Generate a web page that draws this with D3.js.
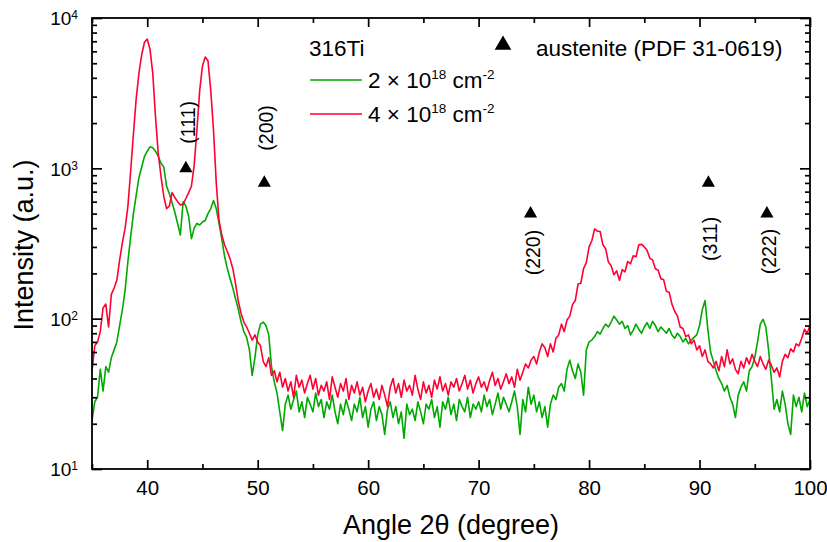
<!DOCTYPE html>
<html>
<head>
<meta charset="utf-8">
<script src="https://cdn.jsdelivr.net/npm/d3@7"></script>
<style>
body { margin: 0; background: #fff; }
text { font-family: "Liberation Sans", Arial, Helvetica, sans-serif; fill: #000; }
</style>
</head>
<body>
<div id="canvas"></div>
<script>
"use strict"

/* Data: intensities, one value every 0.25 degree from 35 to 100 */
let angleStart = 35;
let angleStep = 0.25;

let intensity2e18 = [
    21, 28, 30, 46, 33, 48, 44, 55, 62, 70, 90, 115, 155, 240, 350, 500,
    660, 870, 1020, 1200, 1300, 1390, 1370, 1300, 1200, 1080, 1020, 760, 680, 590, 510, 430,
    360, 600, 560, 480, 340, 400, 430, 420, 440, 450, 500, 540, 610, 540, 430, 340,
    260, 215, 185, 160, 135, 115, 95, 82, 75, 62, 42, 55, 78, 92, 95, 90,
    78, 48, 38, 32, 24, 18, 27, 31, 25, 29, 33, 24, 28, 22, 30, 27,
    24, 32, 26, 29, 22, 28, 25, 31, 24, 20, 27, 23, 29, 25, 21, 27,
    24, 30, 22, 26, 19, 25, 28, 21, 26, 23, 17, 25, 28, 22, 26, 20,
    24, 16, 27, 23, 25, 21, 28, 24, 20, 27, 25, 29, 22, 26, 19, 28,
    25, 30, 23, 27, 21, 29, 26, 24, 30, 22, 27, 25, 28, 24, 31, 26,
    29, 23, 27, 32, 25, 30, 27, 24, 28, 33, 26, 17, 29, 24, 35, 27,
    31, 24, 28, 22, 26, 19, 27, 31, 29, 35, 37, 33, 46, 53, 45, 40,
    50, 44, 31, 62, 70, 72, 76, 82, 79, 86, 92, 88, 95, 104, 98, 92,
    96, 86, 90, 78, 84, 92, 85, 80, 88, 94, 86, 96, 90, 82, 88, 84,
    80, 86, 78, 74, 80, 76, 70, 74, 68, 72, 75, 78, 90, 115, 132, 85,
    60, 52, 45, 40, 37, 33, 36, 30, 27, 22, 31, 35, 38, 33, 45, 48,
    55, 70, 92, 99, 88, 62, 40, 25, 29, 24, 33, 27, 20, 17, 31, 26,
    30, 24, 32, 26, 29
];

let intensity4e18 = [
    45, 66, 70, 82, 118, 125, 88, 145, 160, 180, 245, 320, 400, 560, 960, 1700,
    2900, 4300, 5700, 6900, 7250, 6200, 4300, 2200, 1250, 880, 650, 540, 560, 690, 640, 600,
    570, 580, 630, 690, 760, 1050, 1800, 3300, 4800, 5500, 5200, 3300, 1800, 800, 450, 360,
    310, 280, 250, 215, 170, 130, 108, 95, 88, 80, 72, 78, 70, 66, 52, 48,
    55, 42, 45, 38, 44, 35, 40, 33, 38, 30, 42, 35, 39, 32, 37, 42,
    34, 40, 31, 36, 33, 38, 29, 41, 35, 30, 37, 33, 40, 29, 36, 32,
    38, 31, 35, 28, 33, 37, 30, 34, 29, 36, 31, 26, 35, 40, 32, 37,
    30, 39, 33, 36, 31, 42, 34, 29, 38, 32, 36, 30, 39, 34, 41, 33,
    37, 31, 38, 35, 40, 33, 37, 42, 34, 39, 32, 37, 41, 35, 38, 33,
    39, 44, 36, 40, 34, 38, 43, 37, 41, 35, 46, 39, 44, 50, 47, 53,
    56, 50, 60, 68, 64, 56, 68, 60, 74, 78, 92, 82, 98, 104, 124, 132,
    170, 172, 215, 236, 300, 330, 395, 382, 380, 310, 292, 238, 225, 196, 208, 180,
    212, 205, 240, 232, 262, 258, 310, 312, 300, 285, 252, 246, 215, 210, 184, 182,
    152, 150, 125, 112, 104, 88, 86, 76, 78, 68, 72, 62, 66, 56, 62, 52,
    50, 47, 52, 45, 56, 48, 62, 50, 54, 46, 43, 52, 47, 55, 50, 58,
    52, 48, 56, 50, 46, 53, 49, 44, 47, 41, 52, 58, 55, 63, 60, 68,
    66, 74, 85, 80, 90
];

let seriesDoses = ["2", "4"];
let seriesColors = ["#00a800", "#ff0033"];

/* austenite reflections (PDF 31-0619) */
let peakLabels = ["(111)", "(200)", "(220)", "(311)", "(222)"];
let peakAngles = [43.5, 50.6, 74.7, 90.8, 96.1];
let peakMarks = [1000, 800, 500, 800, 500];

let xMajorTicks = [40, 50, 60, 70, 80, 90, 100];
let xMinorTicks = [35, 45, 55, 65, 75, 85, 95];
let yDecades = [10, 100, 1000, 10000];
let yExponents = ["1", "2", "3", "4"];

/* Configuration variables: drawing */
let svgWidth = 827;
let svgHeight = 542;
let plotLeft = 92;
let plotRight = 810;
let plotTop = 18;
let plotBottom = 469;
/* label offset from triangle: negative = above, positive = below */
let labelOffsets = [-46, -55, 39, 56, 38];

let svg = d3.select("#canvas")
    .append("svg")
    .attr("width", svgWidth)
    .attr("height", svgHeight);

let x = d3.scaleLinear()
    .domain([35, 100])
    .range([plotLeft, plotRight]);

let y = d3.scaleLog()
    .domain([10, 10000])
    .range([plotBottom, plotTop]);

let series = [intensity2e18, intensity4e18].map(function (values) {
    return values.map(function (v, i) {
        return { angle: angleStart + i * angleStep, value: v };
    });
});

svg.append("clipPath")
    .attr("id", "plotClip")
    .append("rect")
    .attr("x", plotLeft)
    .attr("y", plotTop)
    .attr("width", plotRight - plotLeft)
    .attr("height", plotBottom - plotTop);

let line = d3.line()
    .x(d => x(d.angle))
    .y(d => y(d.value));

svg.append("g")
    .attr("clip-path", "url(#plotClip)")
    .selectAll("path")
    .data(series)
    .join("path")
    .attr("fill", "none")
    .attr("stroke", (d, i) => seriesColors[i])
    .attr("stroke-width", 1.6)
    .attr("stroke-linejoin", "round")
    .attr("d", line);

/**** axes, ticks pointing inwards ****/
function styleAxis(g) {
    g.select(".domain").remove();
    g.selectAll(".tick line").attr("stroke", "#000").attr("stroke-width", 1.7);
}

svg.append("g")
    .attr("transform", "translate(0," + plotBottom + ")")
    .call(d3.axisBottom(x).tickValues(xMajorTicks).tickSizeInner(-9).tickSizeOuter(0).tickPadding(11).tickFormat(d3.format("d")))
    .call(styleAxis)
    .call(g => g.selectAll("text").attr("font-size", 20.5).attr("font-family", null));

svg.append("g")
    .attr("transform", "translate(0," + plotBottom + ")")
    .call(d3.axisBottom(x).tickValues(xMinorTicks).tickSizeInner(-5).tickSizeOuter(0).tickFormat(""))
    .call(styleAxis);

svg.append("g")
    .attr("transform", "translate(0," + plotTop + ")")
    .call(d3.axisTop(x).tickValues(xMajorTicks).tickSizeInner(-9).tickSizeOuter(0).tickFormat(""))
    .call(styleAxis);

svg.append("g")
    .attr("transform", "translate(0," + plotTop + ")")
    .call(d3.axisTop(x).tickValues(xMinorTicks).tickSizeInner(-5).tickSizeOuter(0).tickFormat(""))
    .call(styleAxis);

let yMinorTicks = [];
yDecades.slice(0, 3).forEach(function (d) {
    d3.range(2, 10).forEach(function (m) { yMinorTicks.push(d * m); });
});

let leftAxis = svg.append("g")
    .attr("transform", "translate(" + plotLeft + ",0)")
    .call(d3.axisLeft(y).tickValues(yDecades).tickSizeInner(-10).tickSizeOuter(0).tickPadding(14).tickFormat(""))
    .call(styleAxis);

leftAxis.selectAll(".tick text")
    .attr("font-family", null)
    .attr("font-size", 19)
    .attr("dy", "0.36em")
    .each(function (d, i) {
        let t = d3.select(this);
        t.append("tspan").text("10");
        t.append("tspan").attr("dy", "-0.5em").attr("font-size", 12).text(yExponents[i]);
    });

svg.append("g")
    .attr("transform", "translate(" + plotLeft + ",0)")
    .call(d3.axisLeft(y).tickValues(yMinorTicks).tickSizeInner(-5).tickSizeOuter(0).tickFormat(""))
    .call(styleAxis);

svg.append("g")
    .attr("transform", "translate(" + plotRight + ",0)")
    .call(d3.axisRight(y).tickValues(yDecades).tickSizeInner(-10).tickSizeOuter(0).tickFormat(""))
    .call(styleAxis);

svg.append("g")
    .attr("transform", "translate(" + plotRight + ",0)")
    .call(d3.axisRight(y).tickValues(yMinorTicks).tickSizeInner(-5).tickSizeOuter(0).tickFormat(""))
    .call(styleAxis);

/* Draw frame */
svg.append("rect")
    .attr("fill", "none")
    .attr("stroke", "#000")
    .attr("stroke-width", 1.8)
    .attr("x", plotLeft)
    .attr("y", plotTop)
    .attr("width", plotRight - plotLeft)
    .attr("height", plotBottom - plotTop);

/**** label the axes ****/
svg.append("text")
    .attr("x", (plotLeft + plotRight) / 2)
    .attr("y", 534)
    .attr("text-anchor", "middle")
    .attr("font-size", 27)
    .text("Angle 2θ (degree)");

svg.append("text")
    .attr("transform", "translate(33," + 245 + ") rotate(-90)")
    .attr("text-anchor", "middle")
    .attr("font-size", 27)
    .text("Intensity (a.u.)");

/**** reflection markers ****/
let triangle = d3.symbol().type(d3.symbolTriangle);

svg.selectAll(".peak")
    .data(peakAngles)
    .join("path")
    .attr("class", "peak")
    .attr("d", triangle.size(75)())
    .attr("fill", "#000")
    .attr("transform", (d, i) => "translate(" + x(d) + "," + y(peakMarks[i]) + ")");

svg.selectAll(".peakLabel")
    .data(peakAngles)
    .join("text")
    .attr("class", "peakLabel")
    .attr("font-size", 19.5)
    .attr("text-anchor", "middle")
    .attr("dominant-baseline", "central")
    .attr("transform", (d, i) => "translate(" + (x(d) + 2) + "," + (y(peakMarks[i]) + labelOffsets[i]) + ") rotate(-90)")
    .text((d, i) => peakLabels[i]);

/**** legend ****/
svg.append("text")
    .attr("x", 309)
    .attr("y", 56)
    .attr("font-size", 22.5)
    .text("316Ti");

svg.append("path")
    .attr("d", triangle.size(120)())
    .attr("fill", "#000")
    .attr("transform", "translate(503,45)");

svg.append("text")
    .attr("x", 536)
    .attr("y", 56)
    .attr("font-size", 22.5)
    .text("austenite (PDF 31-0619)");

seriesDoses.forEach(function (dose, i) {
    let ly = 80 + i * 34;
    svg.append("line")
        .attr("x1", 310)
        .attr("x2", 362)
        .attr("y1", ly)
        .attr("y2", ly)
        .attr("stroke", seriesColors[i])
        .attr("stroke-width", 1.6);
    let t = svg.append("text")
        .attr("x", 368)
        .attr("y", ly + 8)
        .attr("font-size", 22.5);
    t.append("tspan").text(dose + " × 10");
    t.append("tspan").attr("dy", -9).attr("font-size", 13.5).text("18");
    t.append("tspan").attr("dy", 9).text(" cm");
    t.append("tspan").attr("dy", -9).attr("font-size", 13.5).text("-2");
});
</script>
</body>
</html>
